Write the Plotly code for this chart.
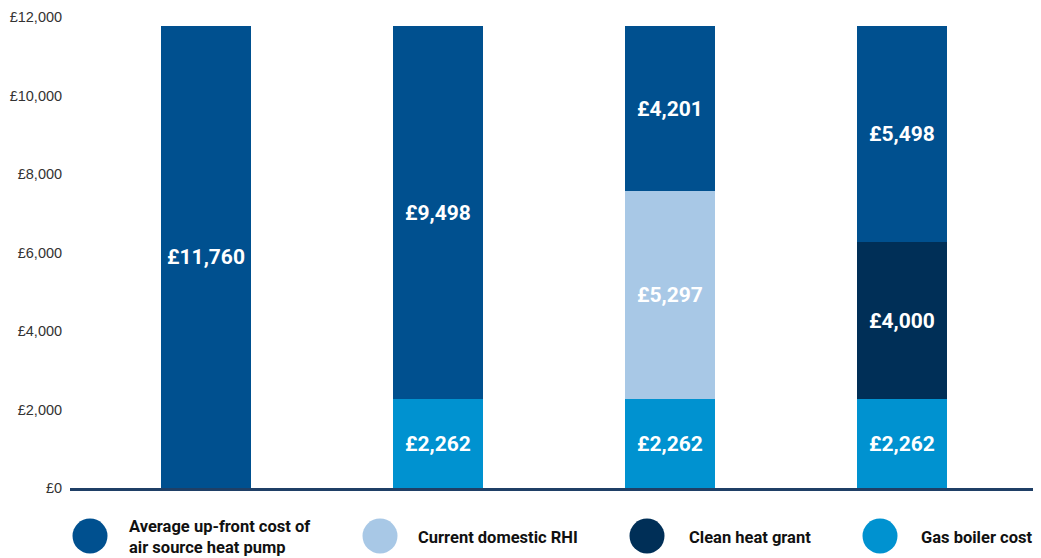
import plotly.graph_objects as go

# ---- data ----
categories = [0, 1, 2, 3]
heat_pump_cost = [11760, 9498, 4201, 5498]
domestic_rhi = [None, None, 5297, None]
clean_heat_grant = [None, None, None, 4000]
gas_boiler_cost = [None, 2262, 2262, 2262]

series_names = ["Average up-front cost of<br>air source heat pump", "Current domestic RHI",
                "Clean heat grant", "Gas boiler cost"]
series_colors = ["#00508F", "#A8C8E6", "#002F57", "#0092D0"]

y_tickvals = [0, 2000, 4000, 6000, 8000, 10000, 12000]
y_ticktext = ["£0", "£2,000", "£4,000", "£6,000", "£8,000", "£10,000", "£12,000"]

# ---- figure ----
fig = go.Figure()
stack = [
    (gas_boiler_cost, series_colors[3]),
    (domestic_rhi, series_colors[1]),
    (clean_heat_grant, series_colors[2]),
    (heat_pump_cost, series_colors[0]),
]
for vals, col in stack:
    fig.add_trace(go.Bar(
        x=categories, y=vals, width=0.39,
        marker=dict(color=col, line=dict(width=0)),
        text=[("£{:,}".format(v) if v is not None else "") for v in vals],
        textposition="inside", insidetextanchor="middle",
        constraintext="none",
        textfont=dict(family="Roboto", size=21, color="white", weight="bold"),
        showlegend=False, hoverinfo="skip",
    ))

OFF = 8  # page body margin
W, H = 1041 - OFF, 558 - OFF
ml, mr, mt, mb = 70 - OFF, 0, 17 - OFF, 70
pw = W - ml - mr
ph = H - mt - mb

def px_to_paper_x(px):
    return (px - OFF - ml) / pw

def py_to_paper_y(py):
    return (H - mb - (py - OFF)) / ph

legend_circle_x = [90, 380, 647, 880]
legend_text_x = [127, 416, 687, 919]
legend_y = 536
shapes = []
annotations = []
for name, col, cx, tx in zip(series_names, series_colors, legend_circle_x, legend_text_x):
    shapes.append(dict(
        type="circle", xref="paper", yref="paper",
        xsizemode="pixel", ysizemode="pixel",
        xanchor=px_to_paper_x(cx), yanchor=py_to_paper_y(legend_y),
        x0=-17.5, x1=17.5, y0=-17.5, y1=17.5,
        fillcolor=col, line=dict(width=0),
    ))
    annotations.append(dict(
        xref="paper", yref="paper", x=px_to_paper_x(tx), y=py_to_paper_y(legend_y + 1),
        xanchor="left", yanchor="middle", align="left", showarrow=False,
        text="<b>" + name + "</b>",
        font=dict(family="Roboto", size=16.5, color="#111111"),
    ))

fig.update_layout(
    width=W, height=H,
    margin=dict(l=ml, r=mr, t=mt, b=mb, pad=0),
    barmode="stack",
    plot_bgcolor="white", paper_bgcolor="white",
    xaxis=dict(range=[-0.586, 3.599], showticklabels=False, ticks="",
               showgrid=False, zeroline=False, showline=True,
               linecolor="#1F3F66", linewidth=3),
    yaxis=dict(range=[0, 12000], tickvals=y_tickvals, ticktext=y_ticktext,
               showgrid=False, zeroline=False, showline=False, ticks="outside",
               ticklen=4, tickcolor="rgba(0,0,0,0)",
               tickfont=dict(family="Liberation Sans", size=14.5, color="#333333")),
    shapes=shapes, annotations=annotations,
    bargap=0,
)

fig.write_html("out.html")
